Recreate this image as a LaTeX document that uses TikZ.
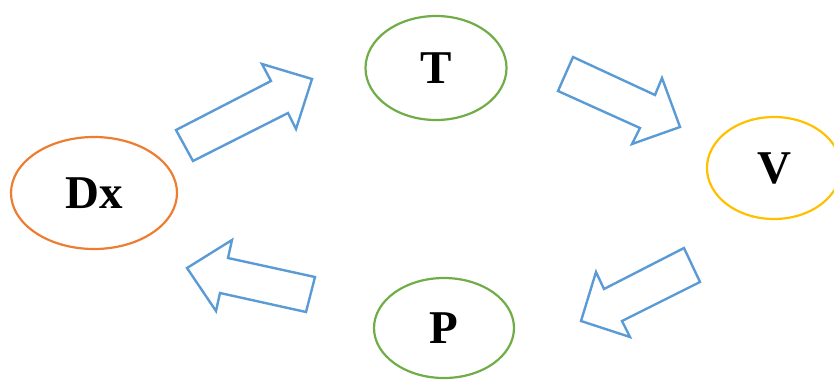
\documentclass[tikz,border=0pt]{standalone}
\usepackage{fontspec}
\setmainfont{Liberation Serif}
\usepackage{tikz}
\usetikzlibrary{shapes}

\definecolor{arrowblue}{HTML}{5B9BD5}
\definecolor{dxorange}{HTML}{ED7D31}
\definecolor{leafgreen}{HTML}{70AD47}
\definecolor{vgold}{HTML}{FFC000}

\begin{document}
\begin{tikzpicture}[x = 1pt, y = -1pt,
  state/.style = {ellipse, line width = 2.2pt, inner sep = 0pt, font = \fontsize{47}{50}\selectfont\bfseries},
  blockarrow/.style = {draw = arrowblue, line width = 2.4pt, line join = miter}]
\useasboundingbox (0,0) rectangle (834,381);
\node[state, draw = dxorange, minimum width = 166pt, minimum height = 112pt] (dx) at (94,193) {Dx};
\node[state, draw = leafgreen, minimum width = 141pt, minimum height = 104pt] (t) at (436,68) {T};
\node[state, draw = vgold, minimum width = 134pt, minimum height = 102pt] (v) at (774,168) {V};
\node[state, draw = leafgreen, minimum width = 140pt, minimum height = 100pt] (p) at (444,328) {P};
% Dx -> T
\draw[blockarrow] (176,130) -- (193,161) -- (288,113) -- (296,129) -- (312,79) -- (262,64) -- (271,81) -- cycle;
% T -> V
\draw[blockarrow] (573,57) -- (558,91) -- (640,128) -- (632,144) -- (680,127) -- (662,78) -- (655,95) -- cycle;
% V -> P
\draw[blockarrow] (684,248) -- (700,282) -- (622,321) -- (630,337) -- (581,321) -- (596,272) -- (604,289) -- cycle;
% P -> Dx
\draw[blockarrow] (315,277) -- (306,312) -- (220,293) -- (216,311) -- (187,268) -- (232,240) -- (228,258) -- cycle;
\end{tikzpicture}
\end{document}
